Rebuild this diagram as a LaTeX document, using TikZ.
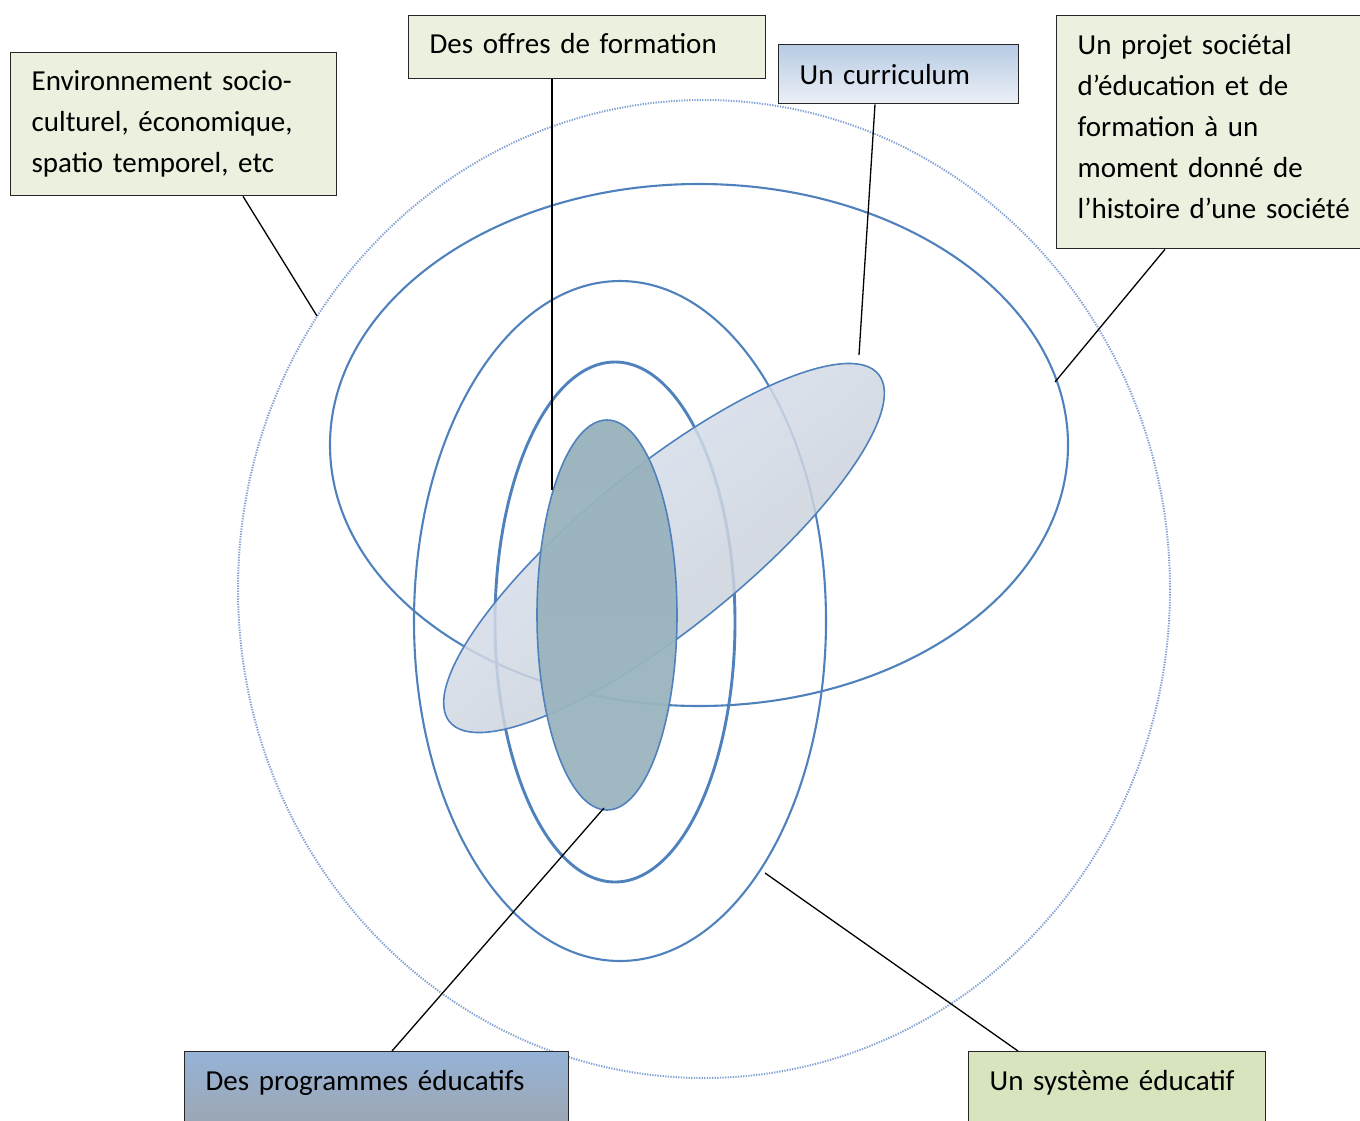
\documentclass[tikz,border=0pt]{standalone}
\usepackage{fontspec}
\setmainfont{Carlito}
\usetikzlibrary{positioning}

\definecolor{ringblue}{RGB}{79,129,189}
\definecolor{dotblue}{RGB}{130,162,212}
\definecolor{palegreen}{RGB}{235,241,222}
\definecolor{sagegreen}{RGB}{215,228,189}

\begin{document}
\begin{tikzpicture}[x=1pt,y=-1pt,
    ring/.style={draw=ringblue,line width=2.1pt},
    label box/.style={draw=black!85,line width=1.3pt,anchor=north west,
            inner xsep=21pt,align=left,font=\fontsize{29}{41}\selectfont},
    link/.style={black,line width=1.3pt}]

    \useasboundingbox (0,0) rectangle (1360,1120);

    \begin{scope}
    %outer dotted circle
    \draw[dotblue,line width=2pt,dash pattern=on 1.3pt off 1.3pt] (704,589) ellipse (466 and 489);

    %open rings
    \draw[ring] (699,445) ellipse (369 and 261);
    \draw[ring] (620,621) ellipse (206 and 340);
    \draw[ring,line width=2.9pt] (615,622) ellipse (120 and 260);

    %tilted shaded ellipse
    \draw[ring,line width=1.6pt,fill opacity=.85,top color={rgb,255:red,218;green,230;blue,245},
        bottom color={rgb,255:red,198;green,201;blue,207},shading angle=39,
        rotate around={39:(664,548)}] (664,548) ellipse (276 and 80);

    %inner filled ellipse
    \draw[ring,line width=1.6pt,fill opacity=.95,top color={rgb,255:red,152;green,177;blue,188},
        middle color={rgb,255:red,128;green,156;blue,170},
        bottom color={rgb,255:red,155;green,180;blue,190}] (607,615) ellipse (70 and 195);
    \end{scope}

    %label boxes
    \node[label box,fill=palegreen,text width=284pt,minimum height=143pt] (envbox) at (10,52)
        {Environnement socio-\\culturel, économique,\\spatio temporel, etc};
    \node[label box,fill=palegreen,text width=315pt,minimum height=63pt] (offres) at (408,15)
        {Des offres de formation\rule[-7pt]{0pt}{0pt}};
    \node[label box,text width=198pt,minimum height=59pt,
        top color={rgb,255:red,183;green,203;blue,228},
        bottom color={rgb,255:red,236;green,240;blue,246}] (curric) at (778,44)
        {Un curriculum};
    \node[label box,fill=palegreen,text width=276pt,minimum height=233pt] (projet) at (1056,15)
        {Un projet sociétal\\d’éducation et de\\formation à un\\moment donné de\\l’histoire d’une société\rule[-11pt]{0pt}{0pt}};
    \node[label box,text width=342pt,inner ysep=20pt,text height=19pt,text depth=50pt,
        top color={rgb,255:red,149;green,179;blue,215},
        bottom color={rgb,255:red,160;green,160;blue,160}] (programmes) at (184,1051)
        {Des programmes éducatifs};
    \node[label box,fill=sagegreen,text width=255pt,inner ysep=20pt,text height=19pt,text depth=50pt] (systeme) at (968,1051)
        {Un système éducatif};

    %end points on the rings
    \coordinate (envpt) at (317,316);
    \coordinate (offrespt) at (552,490);
    \coordinate (curricpt) at (859,355);
    \coordinate (projetpt) at (1055,382);
    \coordinate (programmespt) at (604,808);
    \coordinate (systemept) at (765,873);

    %connectors
    \draw[link] ([xshift=233pt]envbox.south west) -- (envpt);
    \draw[link] ([xshift=144pt]offres.south west) -- (offrespt);
    \draw[link] ([xshift=97pt]curric.south west) -- (curricpt);
    \draw[link] ([xshift=109pt]projet.south west) -- (projetpt);
    \draw[link] ([xshift=208pt]programmes.north west) -- (programmespt);
    \draw[link] ([xshift=50pt]systeme.north west) -- (systemept);

\end{tikzpicture}
\end{document}
